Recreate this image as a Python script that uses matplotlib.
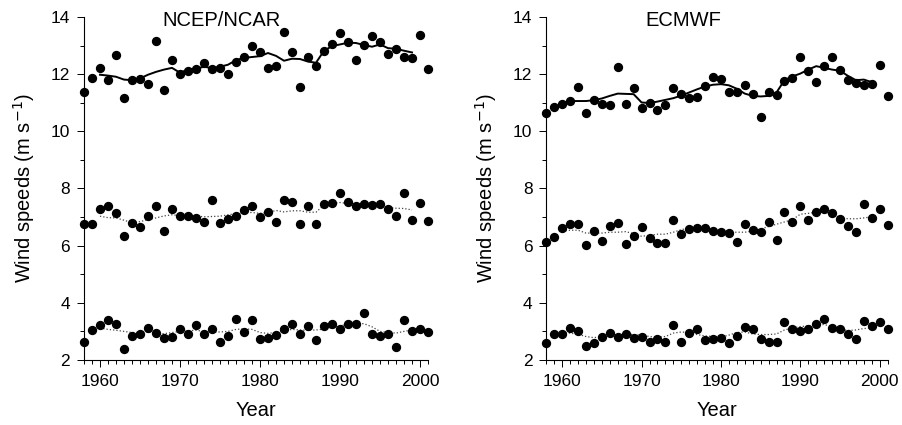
import matplotlib
matplotlib.use('Agg')
import matplotlib.pyplot as plt
from matplotlib.ticker import MultipleLocator

plt.rcParams['font.family'] = ['Liberation Sans', 'DejaVu Sans']

years = list(range(1958, 2002))
smooth_years = list(range(1960, 2000))

# NCEP/NCAR
ncep_top = [11.38, 11.85, 12.21, 11.79, 12.66, 11.17, 11.79, 11.84, 11.64, 13.17,
            11.45, 12.48, 12.00, 12.11, 12.18, 12.40, 12.18, 12.20, 12.00, 12.44,
            12.60, 12.97, 12.76, 12.22, 12.29, 13.47, 12.78, 11.54, 12.60, 12.29,
            12.80, 13.06, 13.44, 13.13, 12.48, 13.03, 13.33, 13.13, 12.71, 12.89,
            12.61, 12.56, 13.37, 12.19]
ncep_top_smooth = [11.98, 11.95, 11.91, 11.81, 11.79, 11.85, 11.98, 12.08, 12.16, 12.22,
                   12.05, 12.16, 12.19, 12.26, 12.21, 12.26, 12.33, 12.49, 12.57, 12.60,
                   12.63, 12.74, 12.64, 12.47, 12.54, 12.53, 12.44, 12.40, 12.82, 12.98,
                   13.04, 13.10, 13.09, 13.02, 12.96, 13.04, 12.91, 12.89, 12.82, 12.76]
ncep_mid = [6.74, 6.74, 7.27, 7.40, 7.13, 6.34, 6.78, 6.64, 7.05, 7.40,
            6.51, 7.27, 7.03, 7.03, 6.96, 6.83, 7.58, 6.80, 6.94, 7.05,
            7.24, 7.40, 7.01, 7.17, 6.84, 7.59, 7.54, 6.74, 7.40, 6.76,
            7.46, 7.49, 7.84, 7.51, 7.39, 7.46, 7.42, 7.44, 7.29, 7.04,
            7.85, 6.90, 7.49, 6.85]
ncep_mid_smooth = [7.03, 6.98, 6.97, 6.89, 6.80, 6.84, 6.91, 6.97, 7.04, 7.08,
                   7.05, 7.03, 7.03, 7.01, 7.02, 7.03, 7.08, 7.12, 7.16, 7.16,
                   7.13, 7.16, 7.23, 7.18, 7.22, 7.22, 7.17, 7.17, 7.42, 7.47,
                   7.51, 7.47, 7.46, 7.43, 7.40, 7.39, 7.33, 7.31, 7.30, 7.25]
ncep_low = [2.63, 3.06, 3.23, 3.39, 3.26, 2.40, 2.85, 2.92, 3.13, 2.94,
            2.78, 2.80, 3.08, 2.90, 3.21, 2.90, 3.08, 2.63, 2.85, 3.44,
            2.98, 3.41, 2.74, 2.78, 2.87, 3.08, 3.27, 2.90, 3.19, 2.70,
            3.20, 3.27, 3.09, 3.27, 3.27, 3.63, 2.90, 2.83, 2.90, 2.44,
            3.41, 3.00, 3.09, 2.98]
ncep_low_smooth = [3.12, 3.07, 3.04, 3.00, 2.96, 2.96, 2.98, 2.93, 2.92, 2.96,
                   3.00, 3.02, 3.04, 3.00, 2.98, 2.98, 3.00, 3.07, 3.09, 3.07,
                   2.96, 2.93, 2.96, 3.02, 3.07, 3.05, 3.04, 3.05, 3.08, 3.13,
                   3.19, 3.26, 3.28, 3.27, 3.16, 3.00, 2.96, 2.94, 3.00, 3.05]

# ECMWF
ecmwf_top = [10.65, 10.85, 10.95, 11.05, 11.54, 10.64, 11.11, 10.97, 10.91, 12.25,
             10.94, 11.50, 10.83, 10.99, 10.73, 10.91, 11.50, 11.30, 11.16, 11.19,
             11.59, 11.91, 11.84, 11.39, 11.38, 11.61, 11.32, 10.51, 11.37, 11.27,
             11.77, 11.87, 12.60, 12.11, 11.73, 12.29, 12.61, 12.16, 11.80, 11.68,
             11.63, 11.64, 12.32, 11.22]
ecmwf_top_smooth = [10.99, 11.06, 11.06, 11.06, 11.09, 11.15, 11.24, 11.32, 11.31, 11.30,
                    11.01, 10.99, 11.04, 11.10, 11.16, 11.25, 11.36, 11.47, 11.57, 11.63,
                    11.65, 11.61, 11.49, 11.32, 11.24, 11.22, 11.24, 11.36, 11.79, 11.92,
                    12.02, 12.16, 12.28, 12.22, 12.16, 12.12, 11.94, 11.79, 11.81, 11.72]
ecmwf_mid = [6.12, 6.29, 6.63, 6.77, 6.75, 6.02, 6.53, 6.16, 6.70, 6.80,
             6.07, 6.33, 6.64, 6.28, 6.09, 6.08, 6.89, 6.42, 6.60, 6.63,
             6.63, 6.51, 6.49, 6.43, 6.12, 6.75, 6.56, 6.47, 6.82, 6.20,
             7.17, 6.83, 7.37, 6.90, 7.18, 7.27, 7.13, 6.94, 6.70, 6.48,
             7.46, 6.95, 7.27, 6.71]
ecmwf_mid_smooth = [6.51, 6.54, 6.54, 6.44, 6.44, 6.44, 6.47, 6.47, 6.49, 6.42,
                    6.33, 6.36, 6.40, 6.40, 6.47, 6.56, 6.61, 6.63, 6.61, 6.57,
                    6.51, 6.47, 6.47, 6.47, 6.51, 6.58, 6.67, 6.75, 6.83, 6.91,
                    7.10, 7.13, 7.17, 7.18, 7.10, 6.98, 6.94, 6.94, 6.97, 7.01]
ecmwf_low = [2.61, 2.90, 2.90, 3.11, 3.01, 2.50, 2.61, 2.80, 2.96, 2.80,
             2.90, 2.78, 2.80, 2.63, 2.75, 2.63, 3.23, 2.62, 2.96, 3.08,
             2.71, 2.75, 2.76, 2.58, 2.83, 3.15, 3.10, 2.73, 2.63, 2.63,
             3.32, 3.10, 3.03, 3.09, 3.25, 3.45, 3.11, 3.10, 2.90, 2.73,
             3.38, 3.18, 3.33, 3.09]
ecmwf_low_smooth = [2.96, 2.94, 2.90, 2.82, 2.78, 2.82, 2.88, 2.87, 2.91, 2.89,
                    2.87, 2.82, 2.80, 2.82, 2.94, 2.98, 2.96, 2.89, 2.84, 2.82,
                    2.80, 2.87, 2.96, 2.98, 2.91, 2.89, 2.89, 2.91, 3.05, 3.12,
                    3.17, 3.19, 3.24, 3.24, 3.17, 3.08, 3.03, 3.05, 3.10, 3.12]

panels = [
    ('NCEP/NCAR', [0.093, 0.153, 0.381, 0.807],
     [(ncep_top, ncep_top_smooth), (ncep_mid, ncep_mid_smooth), (ncep_low, ncep_low_smooth)]),
    ('ECMWF', [0.605, 0.153, 0.378, 0.807],
     [(ecmwf_top, ecmwf_top_smooth), (ecmwf_mid, ecmwf_mid_smooth), (ecmwf_low, ecmwf_low_smooth)]),
]

fig = plt.figure(figsize=(9.03, 4.25), dpi=100)

for title, rect, series in panels:
    ax = fig.add_axes(rect)
    for i, (pts, sm) in enumerate(series):
        ax.plot(years, pts, 'o', color='black', ms=5.7, clip_on=False, zorder=3)
        if i == 0:
            ax.plot(smooth_years, sm, '-', color='black', lw=1.4)
        else:
            ax.plot(smooth_years, sm, ':', color='#444444', lw=0.9)
    ax.set_xlim(1958, 2001)
    ax.set_ylim(2, 14)
    ax.xaxis.set_major_locator(MultipleLocator(10))
    ax.xaxis.set_minor_locator(MultipleLocator(1))
    ax.yaxis.set_major_locator(MultipleLocator(2))
    ax.yaxis.set_minor_locator(MultipleLocator(1))
    ax.spines['top'].set_visible(False)
    ax.spines['right'].set_visible(False)
    ax.tick_params(which='major', direction='out', length=5, width=0.7, labelsize=12.5, pad=5)
    ax.tick_params(which='minor', direction='out', length=3, width=0.7)
    ax.set_xlabel('Year', fontsize=14.5, labelpad=9)
    ax.set_ylabel('Wind speeds (m s$^{-1}$)', fontsize=14.5, labelpad=10)
    ax.text(0.4, 0.99, title, transform=ax.transAxes, ha='center', va='center',
            fontsize=14.5)

plt.savefig('out.png', dpi=100)
